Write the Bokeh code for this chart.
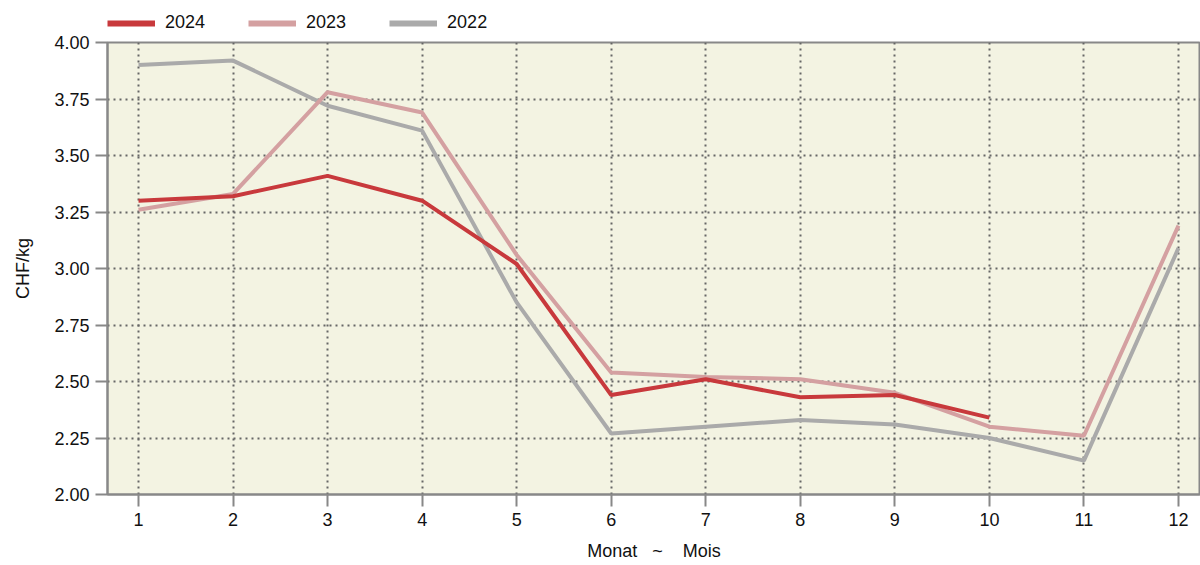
from bokeh.plotting import figure
from bokeh.layouts import column
from bokeh.models import Range1d, FixedTicker, Legend, LegendItem, NumeralTickFormatter
from bokeh.embed import file_html
from bokeh.resources import INLINE

months = [1, 2, 3, 4, 5, 6, 7, 8, 9, 10, 11, 12]
y2024 = [3.30, 3.32, 3.41, 3.30, 3.02, 2.44, 2.51, 2.43, 2.44, 2.34]
y2023 = [3.26, 3.33, 3.78, 3.69, 3.06, 2.54, 2.52, 2.51, 2.45, 2.30, 2.26, 3.19]
y2022 = [3.90, 3.92, 3.72, 3.61, 2.85, 2.27, 2.30, 2.33, 2.31, 2.25, 2.15, 3.09]
y_ticks = [2.0, 2.25, 2.5, 2.75, 3.0, 3.25, 3.5, 3.75, 4.0]
series_names = ["2024", "2023", "2022"]
series_values = [y2024, y2023, y2022]
series_colors = ["#C8393C", "#D4A0A1", "#AAAAAA"]

FONT = "Liberation Sans"
FS = "18px"
LEG_H = 34

p = figure(width=1200, height=565 - LEG_H, output_backend="svg", toolbar_location=None,
           x_range=Range1d(0.672, 12.233), y_range=Range1d(2.0, 4.0),
           min_border_left=107, min_border_right=0, min_border_top=8, min_border_bottom=71)

p.background_fill_color = "#F3F3E2"
p.border_fill_color = "white"
p.outline_line_color = "#888888"
p.outline_line_width = 2

for vals, col in reversed(list(zip(series_values, series_colors))):
    p.line(months[:len(vals)], vals, line_color=col, line_width=4)

for ax in (p.xaxis[0], p.yaxis[0]):
    ax.axis_line_color = "#888888"
    ax.axis_line_width = 2
    ax.major_tick_line_color = "#888888"
    ax.major_tick_line_width = 2
    ax.major_tick_out = 12
    ax.major_tick_in = 0
    ax.minor_tick_line_color = None
    ax.major_label_text_font = FONT
    ax.major_label_text_font_size = FS
    ax.major_label_text_color = "#111111"
    ax.axis_label_text_font = FONT
    ax.axis_label_text_font_size = FS
    ax.axis_label_text_font_style = "normal"
    ax.axis_label_text_color = "#111111"

p.xaxis.ticker = FixedTicker(ticks=months)
p.yaxis.ticker = FixedTicker(ticks=y_ticks)
p.yaxis.formatter = NumeralTickFormatter(format="0.00")
p.xaxis.axis_label = "Monat\u00a0\u00a0\u00a0~\u00a0\u00a0\u00a0\u00a0Mois"
p.yaxis.axis_label = "CHF/kg"
p.xaxis.major_label_standoff = 6
p.yaxis.major_label_standoff = 6
p.xaxis.axis_label_standoff = 12
p.yaxis.axis_label_standoff = 18

for g in (p.xgrid[0], p.ygrid[0]):
    g.grid_line_color = "#666666"
    g.grid_line_dash = "2 4"
    g.grid_line_width = 2

# legend strip (series drawn outside its visible range, only the legend shows)
lf = figure(width=1200, height=LEG_H, output_backend="svg", toolbar_location=None,
            x_range=Range1d(0.672, 12.233), y_range=Range1d(0, 1),
            min_border_left=0, min_border_right=0, min_border_top=0, min_border_bottom=0)
lf.axis.visible = False
lf.grid.visible = False
lf.outline_line_color = None
lf.background_fill_color = "white"
items = []
for name, vals, col in zip(series_names, series_values, series_colors):
    r = lf.line(months[:len(vals)], vals, line_color=col, line_width=6)
    items.append(LegendItem(label=name, renderers=[r]))

legend = Legend(items=items, orientation="horizontal", location=(0, 1),
                label_text_font=FONT, label_text_font_size=FS, label_text_color="#111111",
                glyph_width=48, glyph_height=16, label_height=16,
                spacing=43, padding=0, margin=0,
                label_standoff=10, border_line_color=None,
                background_fill_alpha=0)
lf.add_layout(legend)

layout = column(lf, p, spacing=0)
open("out.html", "w").write(file_html(layout, INLINE))
